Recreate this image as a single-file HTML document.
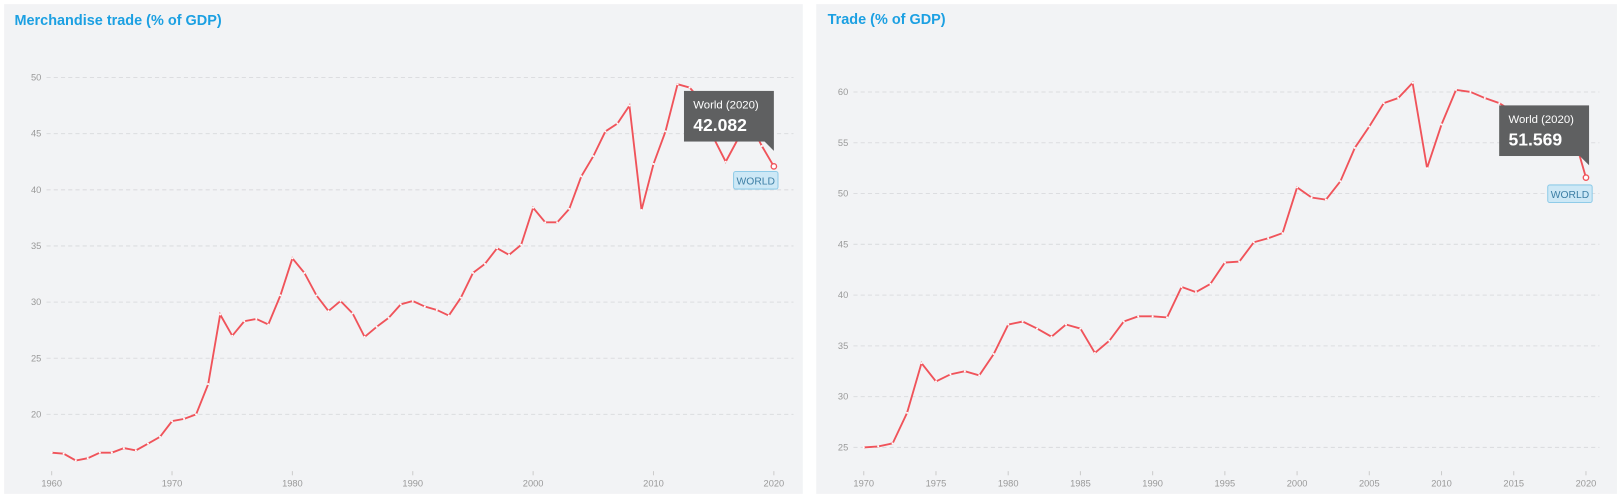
<!DOCTYPE html>
<html><head><style>
body{margin:0;background:#fff;width:1620px;height:494px;overflow:hidden;font-family:"Liberation Sans",sans-serif}
svg{position:absolute;left:0;top:0}
</style></head><body>
<svg width="1620" height="494" xmlns="http://www.w3.org/2000/svg"><g id="s" transform="scale(1.0332)"></g></svg>
<script>
const s=document.getElementById('s');let h='';
h+='<rect x="4" y="4" width="773" height="474" fill="#f2f3f5"/><rect x="790" y="4" width="775" height="474" fill="#f2f3f5"/>';
h+='<text x="14" y="24" font-size="14" font-weight="bold" fill="#1ca0e2">Merchandise trade (% of GDP)</text>';
h+='<text x="801" y="23" font-size="14" font-weight="bold" fill="#1ca0e2">Trade (% of GDP)</text>';
function chart(o){
 const X=y=>o.x0+(y-o.y0)*o.dx, Y=v=>o.py+(o.pv-v)*o.dy;
 for(let t=o.tmin;t<=o.tmax;t+=5){const y=Y(t);h+=`<line x1="${o.gx0}" x2="${o.gx1}" y1="${y}" y2="${y}" stroke="#dcdde0" stroke-dasharray="4,3"/><text x="${o.gx0-5}" y="${y+3}" font-size="9" fill="#999" text-anchor="end">${t}</text>`;}
 for(const yr of o.xt){const x=X(yr);h+=`<line x1="${x}" x2="${x}" y1="${o.xb-6}" y2="${o.xb-2}" stroke="#ccc"/><text x="${x}" y="${o.xb+9}" font-size="9" fill="#999" text-anchor="middle">${yr}</text>`;}
 let p=o.d.map((v,i)=>X(o.y0+i).toFixed(1)+','+Y(v).toFixed(1)).join(' ');
 h+=`<polyline points="${p}" fill="none" stroke="#f0535a" stroke-width="1.8"/>`;
 o.d.forEach((v,i)=>{if(i<o.d.length-1)h+=`<circle cx="${X(o.y0+i)}" cy="${Y(v)}" r="1" fill="#fff"/>`});
 const lx=X(o.y0+o.d.length-1),ly=Y(o.d[o.d.length-1]);
 h+=`<circle cx="${lx}" cy="${ly}" r="2.6" fill="#fff" stroke="#f0535a" stroke-width="1.3"/>`;
 const bx=o.tx,by=o.ty;
 h+=`<rect x="${bx}" y="${by}" width="87" height="49" fill="#5f6061"/><path d="M${bx+78} ${by+49}h9v9z" fill="#5f6061"/>`;
 h+=`<text x="${bx+9}" y="${by+17}" font-size="11" fill="#fff">World (2020)</text><text x="${bx+9}" y="${by+39}" font-size="17" font-weight="bold" fill="#fff">${o.val}</text>`;
 h+=`<rect x="${o.wx}" y="${o.wy}" width="43" height="17" rx="2" fill="#cde8f6" stroke="#8fcbe8"/><text x="${o.wx+21.5}" y="${o.wy+12.5}" font-size="10" fill="#3d7fa5" text-anchor="middle">WORLD</text>`;
}
chart({x0:50,y0:1960,dx:11.65,py:75,pv:50,dy:10.87,tmin:20,tmax:50,gx0:45,gx1:768,xt:[1960,1970,1980,1990,2000,2010,2020],xb:462,tx:662,ty:88,val:'42.082',wx:710,wy:166,
d:[16.6,16.5,15.9,16.1,16.6,16.6,17.0,16.8,17.4,18.0,19.4,19.6,20.0,22.7,28.9,27.0,28.3,28.5,28.0,30.6,33.9,32.6,30.6,29.2,30.1,29.0,26.9,27.8,28.6,29.8,30.1,29.6,29.3,28.8,30.4,32.6,33.4,34.8,34.2,35.1,38.4,37.1,37.1,38.3,41.2,43.0,45.2,45.9,47.5,38.2,42.3,45.2,49.4,49.1,47.9,44.6,42.5,44.5,46.0,43.9,42.082]});
chart({x0:836,y0:1970,dx:13.98,py:89,pv:60,dy:9.83,tmin:25,tmax:60,gx0:826,gx1:1548,xt:[1970,1975,1980,1985,1990,1995,2000,2005,2010,2015,2020],xb:462,tx:1451,ty:102,val:'51.569',wx:1498,wy:179,
d:[25.0,25.1,25.4,28.4,33.3,31.5,32.2,32.5,32.1,34.2,37.1,37.4,36.7,35.9,37.1,36.7,34.3,35.5,37.4,37.9,37.9,37.8,40.8,40.3,41.1,43.2,43.3,45.2,45.6,46.1,50.6,49.6,49.4,51.2,54.5,56.6,58.9,59.4,60.9,52.5,56.8,60.2,60.0,59.4,58.9,58.0,56.0,57.5,58.5,56.5,51.569]});
s.innerHTML=h;
</script>
</body></html>
